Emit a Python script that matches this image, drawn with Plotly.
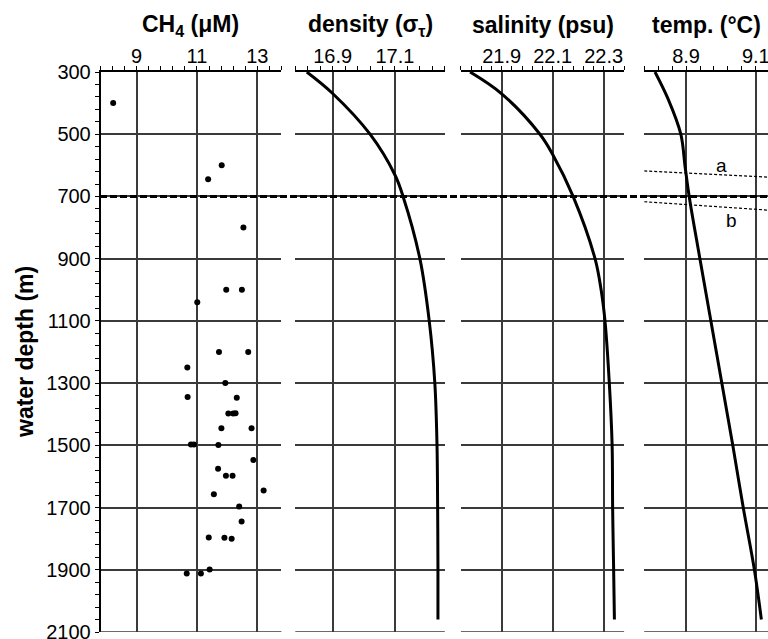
import plotly.graph_objects as go

# ---------------- data ----------------
ch4_depth = [400, 600, 645, 800, 1000, 1000, 1040, 1200, 1200, 1250, 1300,
             1345, 1347, 1398, 1398, 1397, 1445, 1445, 1497, 1497, 1499,
             1547, 1575, 1598, 1598, 1645, 1657, 1697, 1745, 1796, 1797,
             1800, 1899, 1912, 1912]
ch4_conc = [8.22, 11.82, 11.37, 12.54, 11.97, 12.49, 11.01, 11.73, 12.70, 10.68, 11.94,
            10.69, 12.32, 12.04, 12.20, 12.28, 11.81, 12.81, 10.80, 10.90, 11.71,
            12.87, 11.70, 11.96, 12.18, 13.21, 11.56, 12.40, 12.48, 11.39, 11.91,
            12.15, 11.42, 10.66, 11.13]

dens_depth = [300, 369, 500, 631, 700, 900, 1100, 1300, 1500, 1700, 1900, 2060]
dens_val = [16.817, 16.90, 17.02, 17.10, 17.126, 17.18, 17.21, 17.228, 17.235,
            17.237, 17.238, 17.238]

sal_depth = [300, 370, 500, 565, 700, 900, 1001, 1100, 1300, 1500, 1700, 1900, 2060]
sal_val = [21.776, 21.90, 22.05, 22.10, 22.18, 22.266, 22.29, 22.305, 22.322,
           22.333, 22.335, 22.339, 22.342]

temp_depth = [300, 388, 500, 602, 700, 902, 1500, 1700, 1900, 2060]
temp_val = [8.811, 8.849, 8.885, 8.897, 8.909, 8.940, 9.034, 9.064, 9.096, 9.116]

# reference lines in temperature panel (a, b)
line_a_temp = [8.78, 9.135]
line_a_depth = [618, 638]
line_b_temp = [8.78, 9.135]
line_b_depth = [717, 744]
boundary_depth = 700
bottom_depth = 2100

titles = ["<b>CH<sub>4</sub> (μM)</b>", "<b>density (σ<sub>τ</sub>)</b>",
          "<b>salinity (psu)</b>", "<b>temp. (°C)</b>"]
x_ranges = [[7.8, 13.8], [16.78, 17.26], [21.74, 22.38], [8.78, 9.135]]
x_tick0 = [9, 16.9, 21.9, 8.9]
x_dtick = [2, 0.2, 0.2, 0.2]
x_minor0 = [7.8, 16.78, 21.74, 8.78]
x_minord = [0.4, 0.04, 0.04, 0.04]
x_fmt = ["d", ".1f", ".1f", ".1f"]

# ---------------- layout geometry ----------------
W, H = 768, 639
L, R, T, B = 100, 0, 72, 7
PW = W - L - R
PH = H - T - B
panel_px = [(100.5, 281.4), (295.3, 444.8), (460.9, 624.1), (644.2, 768)]
domains = [((a - L) / PW, min(1.0, (b - L) / PW)) for a, b in panel_px]

FONT = "Liberation Sans, Arial, Helvetica, sans-serif"
GRID = "#3a3a3a"

fig = go.Figure()

fig.add_trace(go.Scatter(x=ch4_conc, y=ch4_depth, mode="markers",
                         marker=dict(color="black", size=6), xaxis="x", yaxis="y",
                         showlegend=False))
for xs, ys, n in [(dens_val, dens_depth, "2"), (sal_val, sal_depth, "3"),
                  (temp_val, temp_depth, "4")]:
    fig.add_trace(go.Scatter(x=xs, y=ys, mode="lines",
                             line=dict(color="black", width=3, shape="spline",
                                       smoothing=1.0),
                             xaxis="x" + n, yaxis="y" + n, showlegend=False))
fig.add_trace(go.Scatter(x=line_a_temp, y=line_a_depth, mode="lines",
                         line=dict(color="black", width=1.2, dash="3px,2px"),
                         xaxis="x4", yaxis="y4", showlegend=False))
fig.add_trace(go.Scatter(x=line_b_temp, y=line_b_depth, mode="lines",
                         line=dict(color="black", width=1.2, dash="3px,2px"),
                         xaxis="x4", yaxis="y4", showlegend=False))

layout = dict(
    width=W, height=H,
    margin=dict(l=L, r=R, t=T, b=B, pad=0, autoexpand=False),
    paper_bgcolor="white", plot_bgcolor="white",
    font=dict(family=FONT, color="black", size=20),
    showlegend=False,
)

annotations = []
shapes = []
for i in range(4):
    n = "" if i == 0 else str(i + 1)
    layout["xaxis" + n] = dict(
        domain=list(domains[i]), anchor="y" + n, side="top", automargin=False,
        range=x_ranges[i], tick0=x_tick0[i], dtick=x_dtick[i], tickformat=x_fmt[i],
        showline=True, linecolor="black", linewidth=1.5, mirror=False,
        ticks="outside", ticklen=4, tickwidth=1.2, tickcolor="black",
        showgrid=True, gridcolor=GRID, gridwidth=1.5, zeroline=False,
        tickfont=dict(size=20, family=FONT), ticklabeloverflow="allow",
        ticklabelstandoff=-5,
        minor=dict(tick0=x_minor0[i], dtick=x_minord[i], ticks="outside",
                   ticklen=4, tickwidth=1.2, tickcolor="black", showgrid=False),
    )
    yax = dict(
        domain=[0, 1], anchor="x" + n, range=[2100, 300], automargin=False,
        tick0=300, dtick=200,
        showgrid=True, gridcolor=GRID, gridwidth=1.5, zeroline=False,
    )
    if i == 0:
        yax.update(showline=True, linecolor="black", linewidth=1.5,
                   ticks="outside", ticklen=4, tickwidth=1.2, tickcolor="black",
                   tickfont=dict(size=20, family=FONT), ticklabeloverflow="allow",
                   minor=dict(tick0=300, dtick=40, ticks="outside", ticklen=4,
                              tickwidth=1.2, tickcolor="black", showgrid=False))
    else:
        yax.update(showline=False, showticklabels=False, ticks="", matches="y")
    layout["yaxis" + n] = yax
    annotations.append(dict(text=titles[i], xref="x" + n + " domain", x=0.5,
                            yref="paper", y=(H - B - 25) / PH, yanchor="middle",
                            xanchor="center", showarrow=False,
                            font=dict(size=23, family=FONT)))
    shapes.append(dict(type="line", xref="x" + n + " domain", x0=0, x1=1,
                       yref="y" + n, y0=bottom_depth, y1=bottom_depth,
                       line=dict(color=GRID, width=1.5)))

annotations.append(dict(text="<b>water depth (m)</b>", xref="paper", x=(25 - L) / PW,
                        yref="paper", y=0.5, textangle=-90, showarrow=False,
                        xanchor="center", yanchor="middle",
                        font=dict(size=23, family=FONT)))
annotations.append(dict(text="a", xref="x4", x=9.002, yref="y4", y=599,
                        showarrow=False, font=dict(size=19, family=FONT)))
annotations.append(dict(text="b", xref="x4", x=9.031, yref="y4", y=778,
                        showarrow=False, font=dict(size=19, family=FONT)))
layout["annotations"] = annotations

shapes.append(dict(type="line", xref="paper", x0=0, x1=1, yref="y",
                   y0=boundary_depth, y1=boundary_depth,
                   line=dict(color="black", width=3, dash="7px,3px")))
layout["shapes"] = shapes

fig.update_layout(**layout)
fig.write_html("out.html")
